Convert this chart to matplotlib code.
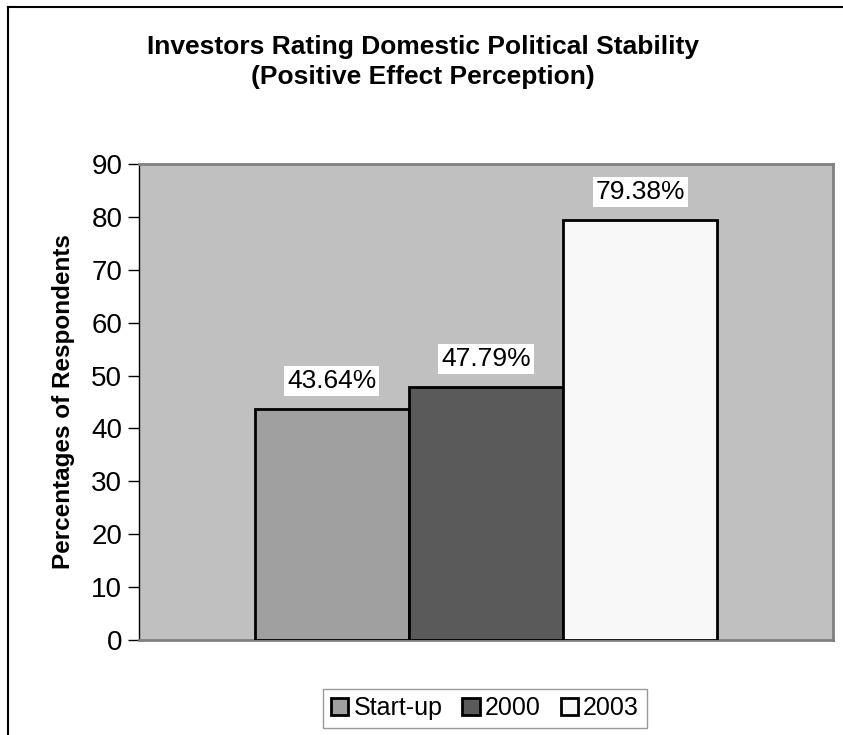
import matplotlib.pyplot as plt
from matplotlib.lines import Line2D

plt.rcParams['font.family'] = ['Liberation Sans', 'DejaVu Sans']

series = ['Start-up', '2000', '2003']
values = [43.64, 47.79, 79.38]
labels = ['43.64%', '47.79%', '79.38%']
colors = ['#a0a0a0', '#5a5a5a', '#f8f8f8']
yticks = [0, 10, 20, 30, 40, 50, 60, 70, 80, 90]

fig = plt.figure(figsize=(8.43, 7.35), dpi=100)
ax = fig.add_axes([139 / 843, 95 / 735, 694 / 843, 476 / 735])
ax.set_facecolor('#c0c0c0')

w = 1 / 4.5
for i, (s, v, c, lab) in enumerate(zip(series, values, colors, labels)):
    x = (i - 1) * w
    ax.bar(x, v, width=w, color=c, edgecolor='black', linewidth=2, label=s, zorder=3)
    ax.text(x, v + 5.4, lab, ha='center', va='center', fontsize=19, zorder=4,
            bbox=dict(facecolor='white', edgecolor='none', pad=2))

ax.set_xlim(-0.5, 0.5)
ax.set_ylim(0, 90)
ax.set_yticks(yticks)
ax.set_xticks([])
ax.tick_params(axis='y', labelsize=20, length=8, width=1, pad=4)
ax.set_ylabel('Percentages of Respondents', fontsize=17.5, fontweight='bold', labelpad=12)

for side in ['top', 'right', 'bottom']:
    ax.spines[side].set_color('#808080')
    ax.spines[side].set_linewidth(2)
ax.spines['left'].set_color('black')
ax.spines['left'].set_linewidth(1)

fig.text(0.502, 1 - 62 / 735, 'Investors Rating Domestic Political Stability\n(Positive Effect Perception)',
         ha='center', va='center', fontsize=19, fontweight='bold', linespacing=1.35)

leg = fig.legend(loc='center', bbox_to_anchor=(485 / 843, 27 / 735), ncol=3, fontsize=18,
                 frameon=True, fancybox=False, edgecolor='#808080', handlelength=0.7,
                 handleheight=0.7, handletextpad=0.2, columnspacing=0.8, borderpad=0.3)
leg.get_frame().set_linewidth(1)

# outer chart border (cropped at right and bottom)
fig.add_artist(Line2D([8 / 843, 8 / 843], [0, 1 - 7 / 735], color='black', linewidth=1.5,
                      transform=fig.transFigure))
fig.add_artist(Line2D([8 / 843, 1], [1 - 7 / 735, 1 - 7 / 735], color='black', linewidth=1.5,
                      transform=fig.transFigure))

fig.savefig('out.png', dpi=100)
